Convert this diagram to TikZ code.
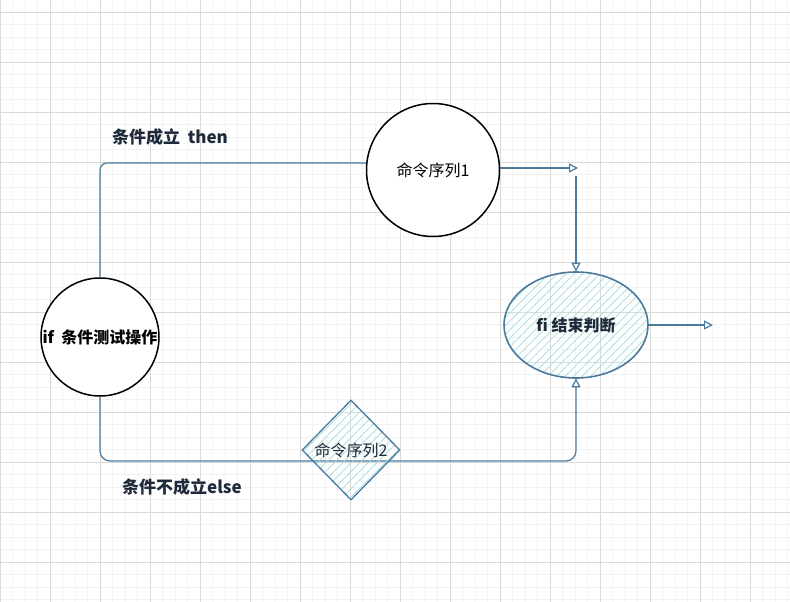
\documentclass[tikz,border=0pt]{standalone}
\usepackage{fontspec}
\setmainfont{Noto Sans CJK SC}
\usetikzlibrary{shapes.geometric,arrows.meta,patterns.meta}
\definecolor{stroke}{HTML}{4A7B9D}
\definecolor{hatch}{HTML}{A6DCE0}
\definecolor{ink}{HTML}{1E2A3A}
\definecolor{gmin}{HTML}{F3F3F3}
\definecolor{gmaj}{HTML}{DADADA}
\tikzset{
  minorline/.style={gmin, line width=0.6pt},
  majorline/.style={gmaj, line width=0.8pt},
  sketchcircle/.style={circle, draw=black, line width=1.5pt, fill=white, inner sep=0pt, font=\fontsize{16}{19}\selectfont},
  hatched/.style={draw=stroke, line width=1.6pt, pattern={Lines[angle=45,distance=6pt,line width=0.7pt]}, pattern color=hatch},
  conn/.style={draw=stroke, line width=1.2pt},
  arr/.style={conn, -{Triangle[open,length=9pt,width=9pt]}},
  lbl/.style={text=ink, font=\fontsize{17}{20}\selectfont\bfseries}
}
\begin{document}
\begin{tikzpicture}[x=1pt,y=-1pt]
\useasboundingbox (0,0) rectangle (790,602);
\fill[white] (0,0) rectangle (790,602);
% grid
\foreach \i in {0,...,63} {\draw[minorline] ({\i*12.5},0) -- ({\i*12.5},602);}
\foreach \i in {0,...,48} {\draw[minorline] (0,{\i*12.5-0.5}) -- (790,{\i*12.5-0.5});}
\foreach \i in {0,...,15} {\draw[majorline] ({\i*50},0) -- ({\i*50},602);}
\foreach \i in {0,...,11} {\draw[majorline] (0,{\i*50+12}) -- (790,{\i*50+12});}

% coordinates
\coordinate (t1) at (578,168);
\coordinate (t2) at (576,176);
\coordinate (b2) at (576,461);
\coordinate (o1) at (713,325);

% nodes
\node[sketchcircle, minimum size=118pt, font=\fontsize{16}{19}\selectfont\bfseries] (ifc) at (100,337) {if\ \ 条件测试操作};
\node[sketchcircle, minimum size=133pt] (cmd1) at (433,170) {命令序列1};
\node[ellipse, hatched, minimum width=144pt, minimum height=106pt, inner sep=0pt, text=ink, font=\fontsize{16}{19}\selectfont\bfseries] (fi) at (576,325) {fi 结束判断};

% connectors
\draw[conn, rounded corners=7pt] (ifc.north) |- (cmd1.174);
\draw[arr] (cmd1.east |- t1) -- (t1);
\draw[arr] (t2) -- (fi.north);
\draw[arr] (fi.east) -- (o1);
\draw[arr, rounded corners=10pt] (ifc.south) |- (b2) -- (fi.south);

\node[diamond, hatched, line width=1.3pt, minimum width=98pt, minimum height=100pt, inner sep=0pt,
      label={[text=ink, font=\fontsize{16}{19}\selectfont]center:命令序列2}] (cmd2) at (351,450) {};

% labels
\node[lbl] (then) at (170,137) {条件成立\ \ then};
\node[lbl] (else) at (182,487) {条件不成立else};
\end{tikzpicture}
\end{document}
